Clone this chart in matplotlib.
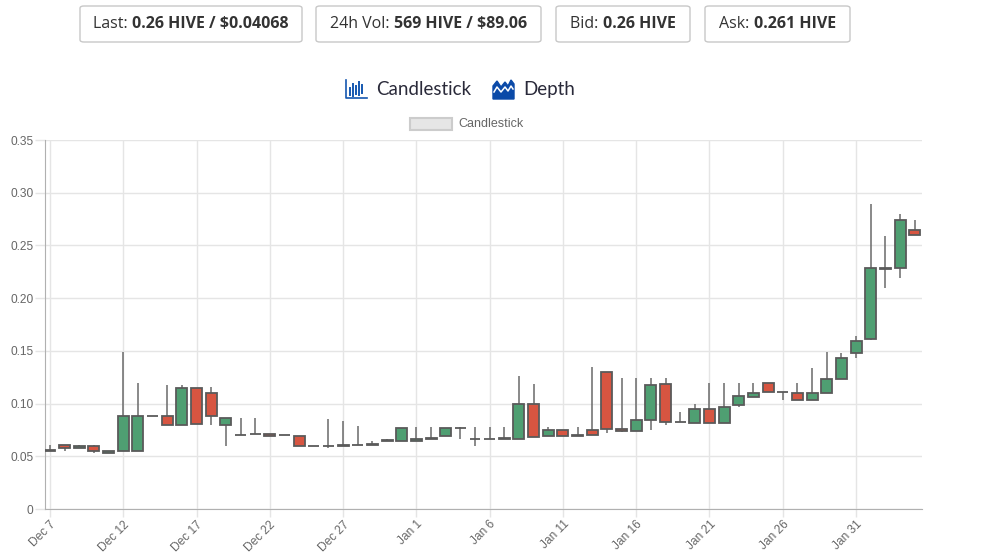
import numpy as np
import matplotlib
matplotlib.use("Agg")
import matplotlib.pyplot as plt
import matplotlib.dates as mdates
from matplotlib.patches import FancyBboxPatch, Rectangle, Polygon
from matplotlib.lines import Line2D

# daily candles, Dec 7 -> Feb 4
dates = np.arange(np.datetime64("2020-12-07"), np.datetime64("2021-02-05"))
opens = [0.0553, 0.0604, 0.0576, 0.0598, 0.0534, 0.0553, 0.0553, 0.0886, 0.0886, 0.0797,
         0.1151, 0.1098, 0.0797, 0.0699, 0.0710, 0.0715, 0.0705, 0.0693, 0.0598, 0.0598,
         0.0600, 0.0606, 0.0608, 0.0648, 0.0648, 0.0648, 0.0667, 0.0696, 0.0772, 0.0666,
         0.0660, 0.0664, 0.0667, 0.0996, 0.0696, 0.0747, 0.0696, 0.0747, 0.1300, 0.0756,
         0.0740, 0.0848, 0.1183, 0.0822, 0.0819, 0.0952, 0.0819, 0.0984, 0.1066, 0.1199,
         0.1112, 0.1100, 0.1031, 0.1098, 0.1234, 0.1480, 0.1610, 0.2275, 0.2290, 0.2645]
closes = [0.0556, 0.0576, 0.0598, 0.0553, 0.0553, 0.0886, 0.0886, 0.0886, 0.0797, 0.1151,
          0.0807, 0.0880, 0.0861, 0.0705, 0.0715, 0.0696, 0.0700, 0.0598, 0.0598, 0.0600,
          0.0606, 0.0610, 0.0612, 0.0655, 0.0766, 0.0667, 0.0672, 0.0772, 0.0769, 0.0660,
          0.0666, 0.0670, 0.0996, 0.0686, 0.0747, 0.0696, 0.0698, 0.0705, 0.0756, 0.0740,
          0.0845, 0.1174, 0.0822, 0.0826, 0.0952, 0.0819, 0.0968, 0.1070, 0.1098, 0.1107,
          0.1108, 0.1031, 0.1098, 0.1237, 0.1430, 0.1590, 0.2290, 0.2285, 0.2740, 0.2597]
highs = [0.0604, 0.0605, 0.0604, 0.0604, 0.0553, 0.1487, 0.1193, 0.0886, 0.1174, 0.1174,
         0.1151, 0.1155, 0.0861, 0.0863, 0.0863, 0.0715, 0.0705, 0.0693, 0.0600, 0.0854,
         0.0835, 0.0785, 0.0648, 0.0667, 0.0766, 0.0775, 0.0775, 0.0772, 0.0775, 0.0775,
         0.0775, 0.0775, 0.1260, 0.1186, 0.0775, 0.0747, 0.0775, 0.1350, 0.1300, 0.1240,
         0.1240, 0.1240, 0.1240, 0.0920, 0.0993, 0.1196, 0.1196, 0.1196, 0.1196, 0.1199,
         0.1112, 0.1196, 0.1335, 0.1490, 0.1480, 0.1640, 0.2890, 0.2590, 0.2800, 0.2740]
lows = [0.0553, 0.0553, 0.0576, 0.0534, 0.0534, 0.0553, 0.0553, 0.0886, 0.0797, 0.0797,
        0.0807, 0.0800, 0.0598, 0.0699, 0.0710, 0.0696, 0.0700, 0.0598, 0.0598, 0.0576,
        0.0600, 0.0606, 0.0608, 0.0648, 0.0648, 0.0648, 0.0667, 0.0696, 0.0660, 0.0595,
        0.0660, 0.0664, 0.0667, 0.0686, 0.0696, 0.0696, 0.0696, 0.0705, 0.0720, 0.0730,
        0.0740, 0.0750, 0.0797, 0.0822, 0.0819, 0.0819, 0.0819, 0.0970, 0.1066, 0.1107,
        0.1034, 0.1031, 0.1031, 0.1098, 0.1234, 0.1430, 0.1600, 0.2100, 0.2195, 0.2597]

yticks = [0, 0.05, 0.10, 0.15, 0.20, 0.25, 0.30, 0.35]
ytick_labels = ["0", "0.05", "0.10", "0.15", "0.20", "0.25", "0.30", "0.35"]

stats = [("Last: ", "0.26 HIVE / $0.04068"), ("24h Vol: ", "569 HIVE / $89.06"),
         ("Bid: ", "0.26 HIVE"), ("Ask: ", "0.261 HIVE")]
stat_boxes = [(80, 302), (316, 541), (556, 690), (705, 850)]

UP = "#4f9f72"
DOWN = "#d75541"
SAME = "#5a5a5a"
EDGE = "#5a5a5a"

W, H = 984, 554
fig = plt.figure(figsize=(W / 100, H / 100), dpi=100)
fig.patch.set_facecolor("white")

def fx(x):
    return x / W

def fy(y):
    return 1 - y / H

ax = fig.add_axes([fx(45), fy(509), fx(922) - fx(45), fy(140) - fy(509)])

o = np.array(opens)
c = np.array(closes)
hi = np.array(highs)
lo = np.array(lows)
colors = [UP if cc > oo else (DOWN if cc < oo else SAME) for oo, cc in zip(o, c)]
xd = mdates.date2num(dates.astype("datetime64[D]").astype("O"))

ax.vlines(xd, lo, hi, color="#6a6a6a", linewidth=1.1, zorder=2)
ax.bar(xd, np.abs(c - o), bottom=np.minimum(o, c), width=0.75, color=colors,
       edgecolor=EDGE, linewidth=1.3, zorder=3)

ax.set_ylim(0, 0.35)
ax.set_yticks(yticks)
ax.set_yticklabels(ytick_labels)
ax.set_xlim(xd[0] - 0.34, xd[-1] + 0.5)
tick_pos = xd[::5]
ax.set_xticks(tick_pos)
ax.set_xticklabels([f"{d:%b} {d.day}" for d in mdates.num2date(tick_pos)], rotation=45,
                   ha="right", rotation_mode="anchor")

ax.grid(True, color="#e5e5e5", linewidth=1, zorder=0)
ax.set_axisbelow(True)
for s in ["top", "right"]:
    ax.spines[s].set_visible(False)
for s in ["left", "bottom"]:
    ax.spines[s].set_color("#b0b0b0")
ax.tick_params(axis="both", colors="#e5e5e5", width=1, labelcolor="#666666",
               labelsize=8.6, pad=1)
ax.tick_params(axis="y", length=7.5)
ax.tick_params(axis="x", length=5.8)
for lab in ax.get_xticklabels() + ax.get_yticklabels():
    lab.set_fontfamily("Liberation Sans")

# header stat boxes
renderer = fig.canvas.get_renderer()
for (lbl, val), (x0, x1) in zip(stats, stat_boxes):
    fig.patches.append(FancyBboxPatch((fx(x0), fy(42)), fx(x1) - fx(x0), fy(6) - fy(42),
                                      boxstyle="round,pad=0,rounding_size=0.004",
                                      transform=fig.transFigure, facecolor="white",
                                      edgecolor="#c8c8c8", linewidth=1))
    t1 = fig.text(0, fy(24), lbl, fontsize=11.5, family="Open Sans", color="#333333",
                  va="center")
    t2 = fig.text(0, fy(24), val, fontsize=11.5, family="Open Sans", weight="bold",
                  color="#333333", va="center")
    w1 = t1.get_window_extent(renderer).width
    w2 = t2.get_window_extent(renderer).width
    start = (x0 + x1) / 2 - (w1 + w2) / 2
    t1.set_x(fx(start))
    t2.set_x(fx(start + w1))

# chart type switch
blue = "#1558b0"
fig.lines.append(Line2D([fx(346), fx(346), fx(367)], [fy(80), fy(98), fy(98)],
                        transform=fig.transFigure, color=blue, linewidth=1.2))
for bx, y0, y1 in [(350, 88, 95), (353, 84, 96), (356, 86, 94), (359, 82, 95), (362, 85, 93)]:
    fig.lines.append(Line2D([fx(bx), fx(bx)], [fy(y0), fy(y1)], transform=fig.transFigure,
                            color=blue, linewidth=1.4))
fig.text(fx(376), fy(89), "Candlestick", fontsize=13.5, family="Lato", color="#2a2a3a",
         va="center")
depth_pts = [(493, 99), (493, 86), (497, 81), (501, 87), (505, 82), (508, 86), (511, 80),
             (514, 84), (514, 99)]
fig.patches.append(Polygon([(fx(a), fy(b)) for a, b in depth_pts], closed=True,
                           transform=fig.transFigure, facecolor="#0b4aa8",
                           edgecolor="#0b4aa8"))
zig = [(494, 92), (497, 87), (501, 92), (505, 87), (508, 91), (511, 86), (513, 89)]
fig.lines.append(Line2D([fx(a) for a, b in zig], [fy(b) for a, b in zig],
                        transform=fig.transFigure, color="white", linewidth=1.1))
fig.text(fx(523), fy(89), "Depth", fontsize=13.5, family="Lato", color="#2a2a3a",
         va="center")

# legend
fig.patches.append(Rectangle((fx(410), fy(130)), fx(452) - fx(410), fy(118) - fy(130),
                             transform=fig.transFigure, facecolor="#e6e6e6",
                             edgecolor="#cccccc", linewidth=1.5))
fig.text(fx(458), fy(124), "Candlestick", fontsize=9, family="Liberation Sans",
         color="#666666", va="center")

fig.savefig("out.png", dpi=100)
